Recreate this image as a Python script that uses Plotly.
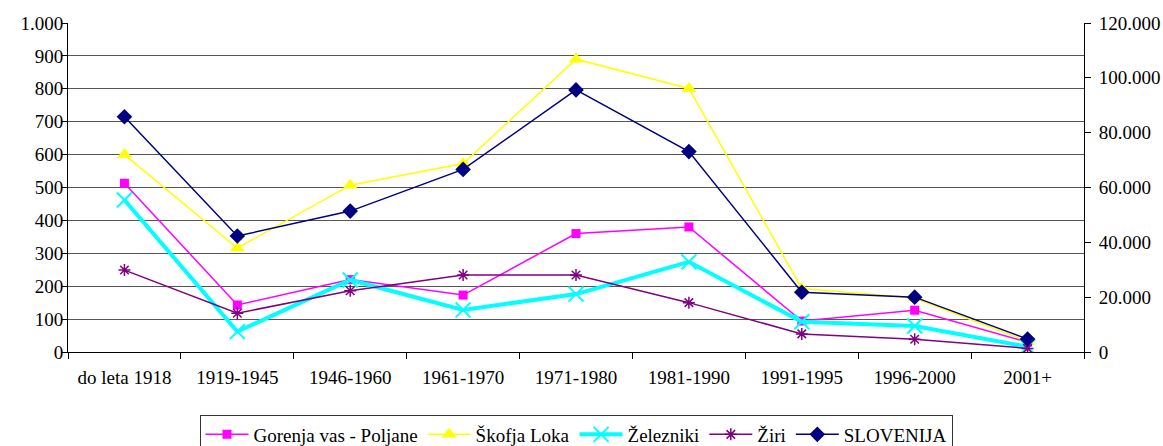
import plotly.graph_objects as go

categories = ["do leta 1918", "1919-1945", "1946-1960", "1961-1970", "1971-1980",
              "1981-1990", "1991-1995", "1996-2000", "2001+"]
gorenja = [513, 143, 220, 173, 360, 380, 94, 127, 30]
skofja = [600, 316, 507, 573, 890, 801, 193, 164, 32]
zelezniki = [462, 62, 219, 128, 176, 274, 92, 79, 16]
ziri = [249, 118, 186, 234, 234, 150, 55, 39, 11]
slovenija = [85800, 42300, 51400, 66600, 95600, 73100, 21800, 20000, 4700]

FONT = "Liberation Serif"

fig = go.Figure()
fig.add_trace(go.Scatter(x=categories, y=gorenja, name="Gorenja vas - Poljane", mode="lines+markers",
                         line=dict(color="#FF00FF", width=1.5),
                         marker=dict(symbol="square", size=9, color="#FF00FF")))
fig.add_trace(go.Scatter(x=categories, y=skofja, name="Škofja Loka", mode="lines+markers",
                         line=dict(color="#FFFF00", width=1.5),
                         marker=dict(symbol="triangle-up", size=13, color="#FFFF00")))
fig.add_trace(go.Scatter(x=categories, y=zelezniki, name="Železniki", mode="lines+markers",
                         line=dict(color="#00FFFF", width=4),
                         marker=dict(symbol="x-thin-open", size=15, color="#00FFFF",
                                     line=dict(color="#00FFFF", width=2))))
fig.add_trace(go.Scatter(x=categories, y=ziri, name="Žiri", mode="lines+markers",
                         line=dict(color="#800080", width=1.5),
                         marker=dict(symbol="asterisk-open", size=10, color="#800080",
                                     line=dict(color="#800080", width=1.5))))
fig.add_trace(go.Scatter(x=categories, y=slovenija, name="SLOVENIJA", mode="lines+markers",
                         yaxis="y2",
                         line=dict(color="#000080", width=1.5),
                         marker=dict(symbol="diamond", size=12, color="#000080")))

fig.update_layout(
    width=1163, height=446,
    margin=dict(l=68, r=79, t=23, b=94, autoexpand=False),
    paper_bgcolor="white", plot_bgcolor="white",
    separators=",.",
    font=dict(family=FONT, size=19, color="black"),
    xaxis=dict(type="category", range=[-0.5, 8.5], showline=True, linecolor="black",
               linewidth=1, ticks="outside", tickson="boundaries", ticklen=6,
               tickcolor="black", showgrid=False, zeroline=False, automargin=False,
               ticklabelstandoff=8, tickfont=dict(family=FONT, size=19)),
    yaxis=dict(range=[0, 1000], dtick=100, tickformat=",d", showline=True,
               linecolor="black", linewidth=1, ticks="outside", ticklen=6,
               tickcolor="black", showgrid=True, gridcolor="#555555", gridwidth=1,
               zeroline=False, automargin=False, ticklabelstandoff=-6,
               tickfont=dict(family=FONT, size=19)),
    yaxis2=dict(range=[0, 120000], dtick=20000, tickformat=",d", overlaying="y",
                side="right", showline=True, linecolor="black", linewidth=1,
                ticks="outside", ticklen=6, tickcolor="black", showgrid=False,
                zeroline=False, automargin=False, ticklabelstandoff=4,
                tickfont=dict(family=FONT, size=19)),
    legend=dict(orientation="h", x=0.5, xanchor="center", y=-0.19, yanchor="top",
                bordercolor="#333333", borderwidth=1, font=dict(family=FONT, size=19),
                itemwidth=43, tracegroupgap=0),
    showlegend=True,
)

fig.write_html("out.html", config={"displayModeBar": False},
               post_script="document.body.style.margin='0';")
